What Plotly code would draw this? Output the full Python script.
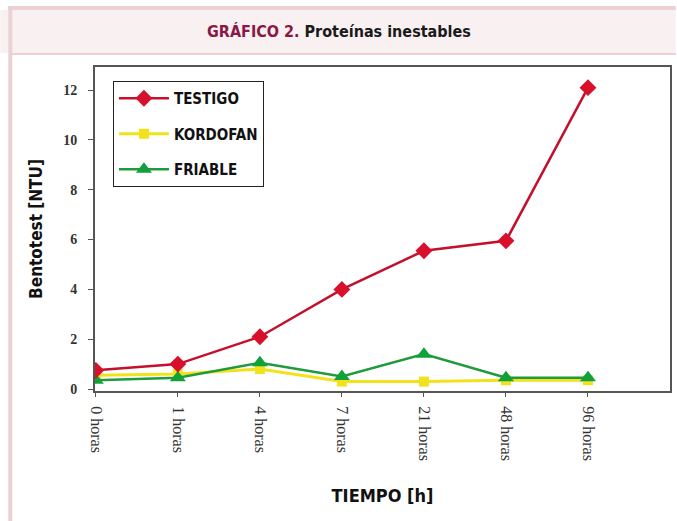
import plotly.graph_objects as go

categories = ["0 horas", "1 horas", "4 horas", "7 horas", "21 horas", "48 horas", "96 horas"]
testigo = [0.75, 1.0, 2.1, 4.0, 5.55, 5.95, 12.1]
kordofan = [0.55, 0.6, 0.8, 0.3, 0.3, 0.35, 0.35]
friable = [0.35, 0.45, 1.05, 0.5, 1.4, 0.45, 0.45]
y_ticks = [0, 2, 4, 6, 8, 10, 12]

pink = "#ebd0d4"
band = "#f8f0f1"
narrow = "DejaVu Sans Condensed, Liberation Sans"
xpos = list(range(len(categories)))

fig = go.Figure()
fig.add_trace(go.Scatter(x=xpos, y=kordofan, name="<b>KORDOFAN</b>", mode="lines+markers", legendgroup="b", legendrank=2,
                         line=dict(color="#f2e21c", width=3), marker=dict(symbol="square", size=10, color="#f2e21c")))
fig.add_trace(go.Scatter(x=xpos, y=friable, name="<b>FRIABLE</b>", mode="lines+markers", legendgroup="c", legendrank=3,
                         line=dict(color="#1f9a3c", width=2.5), marker=dict(symbol="triangle-up", size=14, color="#12a03a")))
fig.add_trace(go.Scatter(x=xpos, y=testigo, name="<b>TESTIGO</b>", mode="lines+markers", legendgroup="a", legendrank=1,
                         line=dict(color="#c4102c", width=2.5), marker=dict(symbol="diamond", size=13, color="#d8102c")))

fig.update_xaxes(range=[-0.01, 7.0], tickvals=xpos, ticktext=categories, tickangle=90, ticks="outside", ticklen=4,
                 tickcolor="#555", showgrid=False, zeroline=False, showline=True, linecolor="#555", linewidth=2, mirror=True,
                 tickfont=dict(family="Liberation Serif", size=16, color="#333"), ticklabelstandoff=6,
                 title=dict(text="<b>TIEMPO [h]</b>", font=dict(family=narrow, size=18, color="#111"), standoff=30))
fig.update_yaxes(range=[-0.08, 12.93], tickvals=y_ticks, ticks="outside", ticklen=5, tickcolor="#555",
                 showgrid=False, zeroline=False, showline=True, linecolor="#555", linewidth=2, mirror=True,
                 tickfont=dict(family="Liberation Serif", size=14, color="#333", weight="bold"), ticklabelstandoff=8,
                 title=dict(text="<b>Bentotest [NTU]</b>", font=dict(family=narrow, size=17, color="#111"), standoff=16))

# frame and header band
fig.add_shape(type="rect", xref="paper", yref="paper", x0=-95/577, x1=1.01, y0=(391-53)/324, y1=(391-10)/324,
              fillcolor=band, line_width=0, layer="below")
fig.add_shape(type="rect", xref="paper", yref="paper", x0=-87/577, x1=1.01, y0=(391-10)/324, y1=(391-6)/324,
              fillcolor=pink, line_width=0, layer="below")
fig.add_shape(type="rect", xref="paper", yref="paper", x0=-87/577, x1=-83/577, y0=-0.5, y1=(391-6)/324,
              fillcolor=pink, line_width=0, layer="below")
fig.add_shape(type="rect", xref="paper", yref="paper", x0=-83/577, x1=1.01, y0=(391-55)/324, y1=(391-53)/324,
              fillcolor=pink, line_width=0, layer="below")

fig.add_annotation(xref="paper", yref="paper", x=(340-95)/577, y=(391-32)/324, showarrow=False,
                   xanchor="center", yanchor="middle",
                   text="<b><span style='color:#8a1746'>GRÁFICO 2.</span> Proteínas inestables</b>",
                   font=dict(family=narrow, size=16, color="#1a1a1a"))

fig.update_layout(width=677, height=521, margin=dict(l=95, r=5, t=67, b=130),
                  plot_bgcolor="white", paper_bgcolor="white", showlegend=True,
                  legend=dict(x=(113-95)/577, y=(391-81)/324, xanchor="left", yanchor="top", traceorder="grouped",
                              bgcolor="white", bordercolor="#222", borderwidth=1, tracegroupgap=13, itemwidth=50,
                              font=dict(family=narrow, size=15, color="#111")))

fig.write_html("out.html", config={"displayModeBar": False}, post_script="document.body.style.margin='0';")
